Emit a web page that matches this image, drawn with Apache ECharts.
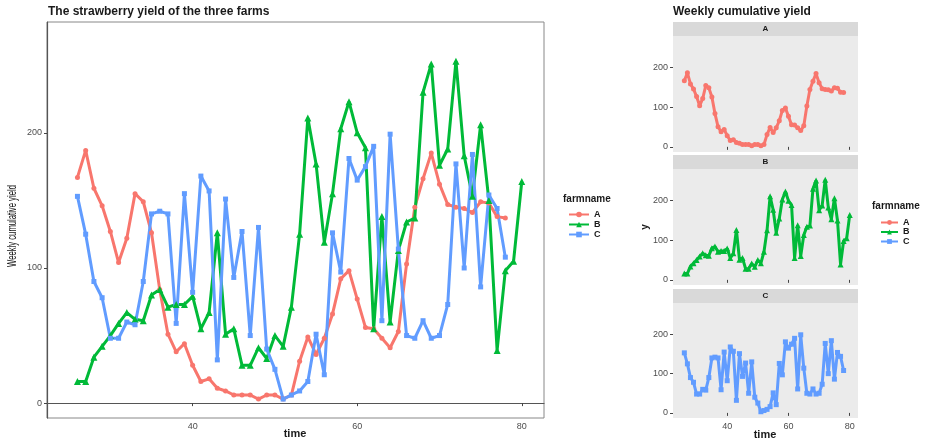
<!DOCTYPE html>
<html>
<head>
<meta charset="utf-8">
<script src="https://cdn.jsdelivr.net/npm/echarts@6/dist/echarts.min.js"></script>
<style>
  html, body { margin: 0; padding: 0; background: #fff; }
  #chart { width: 933px; height: 442px; }
</style>
</head>
<body>
<div id="chart"></div>
<script>
// Weekly time index for each farm
const timeAC = [26,27,28,29,30,31,32,33,34,35,36,37,38,39,40,41,42,43,44,45,46,47,48,49,50,51,52,53,54,55,56,57,58,59,60,61,62,63,64,65,66,67,68,69,70,71,72,73,74,75,76,77,78];
const timeB = [26,27,28,29,30,31,32,33,34,35,36,37,38,39,40,41,42,43,44,45,46,47,48,49,50,51,52,53,54,55,56,57,58,59,60,61,62,63,64,65,66,67,68,69,70,71,72,73,74,75,76,77,78,79,80];

// Weekly cumulative yield per farm
const yieldA = [167,187,159,146,127,104,122,155,149,126, 84,51,38,44,28,16,18,11,9,6, 6,6,3,6,6,3,6,31,49,36, 48,66,92,98,77,56,55,48,41,53, 103,145,166,185,162,147,145,144,141,149, 148,138,137];
const yieldB = [16,16,34,42,50,59,67,62,61,80, 84,71,73,73,79,55,67,126,51,55, 28,28,41,33,50,42,71,125,211,177, 119,155,203,223,200,189,55,138,60,113, 134,137,230,251,176,188,253,183,153,206, 150,39,98,105,164];
const yieldC = [153,125,90,78,48,48,60,58,90,140, 142,140,59,155,82,168,157,32,151,93, 127,50,130,40,25,3,6,9,16,51, 21,126,97,181,165,175,190,61,199,114, 50,48,61,48,50,73,177,100,184,86, 154,144,108];

const farms = ['A', 'B', 'C'];
const xTicks = [40, 60, 80];
const yTicks = [0, 100, 200];

const colors = { A: '#F8766D', B: '#00BA38', C: '#619CFF' };
const shapes = { A: 'circle', B: 'triangle', C: 'rect' };
const seriesData = {
  A: timeAC.map((t, i) => [t, yieldA[i]]),
  B: timeB.map((t, i) => [t, yieldB[i]]),
  C: timeAC.map((t, i) => [t, yieldC[i]])
};

const FONT = 'Liberation Sans, Arial, sans-serif';
const chart = echarts.init(document.getElementById('chart'));

function xAxisFor(gridIndex, showLabels) {
  return {
    type: 'value', gridIndex, min: 22.3, max: 82.7,
    axisLine: { show: gridIndex === 0, lineStyle: { color: '#555', width: 1.2 } },
    axisTick: { show: true, length: 3, customValues: xTicks, lineStyle: { color: '#444' } },
    axisLabel: { show: showLabels, customValues: xTicks, color: '#4D4D4D', fontSize: 9, margin: 4, fontFamily: FONT },
    splitLine: { show: false }
  };
}
function yAxisFor(gridIndex, min, max) {
  return {
    type: 'value', gridIndex, min, max,
    axisLine: { show: gridIndex === 0, lineStyle: { color: '#555', width: 1.2 } },
    axisTick: { show: true, length: 3, customValues: yTicks, lineStyle: { color: '#444' } },
    axisLabel: { customValues: yTicks, color: '#4D4D4D', fontSize: 9, margin: 5, fontFamily: FONT },
    splitLine: { show: false }
  };
}

const grids = [
  { left: 47, top: 22, width: 497, height: 396, show: true, borderColor: '#888', borderWidth: 1, backgroundColor: '#fff' },
  { left: 673, top: 36, width: 185, height: 116, show: true, borderWidth: 0, backgroundColor: '#EBEBEB' },
  { left: 673, top: 169, width: 185, height: 116, show: true, borderWidth: 0, backgroundColor: '#EBEBEB' },
  { left: 673, top: 303, width: 185, height: 115, show: true, borderWidth: 0, backgroundColor: '#EBEBEB' }
];

const series = [];
farms.forEach((f) => {
  series.push({
    name: f, type: 'line', xAxisIndex: 0, yAxisIndex: 0,
    data: seriesData[f], symbol: shapes[f], symbolSize: f === 'B' ? 7 : 5,
    showSymbol: true, color: colors[f],
    lineStyle: { width: 3, color: colors[f] },
    itemStyle: { color: colors[f] }, z: 3
  });
});
farms.forEach((f, i) => {
  series.push({
    name: f, type: 'line', xAxisIndex: i + 1, yAxisIndex: i + 1,
    data: seriesData[f], symbol: shapes[f], symbolSize: f === 'B' ? 6 : 5,
    showSymbol: true, color: colors[f],
    lineStyle: { width: 3, color: colors[f] },
    itemStyle: { color: colors[f] }
  });
});

function strip(top, label) {
  return [
    { type: 'rect', shape: { x: 673, y: top, width: 185, height: 14 }, style: { fill: '#D9D9D9' }, silent: true },
    { type: 'text', x: 765.5, y: top + 7, style: { text: label, fill: '#1A1A1A', font: 'bold 8px ' + FONT, textAlign: 'center', textVerticalAlign: 'middle' }, silent: true }
  ];
}

const option = {
  animation: false,
  backgroundColor: '#fff',
  grid: grids,
  xAxis: [xAxisFor(0, true), xAxisFor(1, false), xAxisFor(2, false), xAxisFor(3, true)],
  yAxis: [yAxisFor(0, -11, 282), yAxisFor(1, -13, 280), yAxisFor(2, -13, 280), yAxisFor(3, -13, 280)],
  legend: [
    {
      data: farms, orient: 'vertical', left: 563, top: 205, itemWidth: 20, itemHeight: 7, itemGap: 1,
      textStyle: { fontSize: 9, fontWeight: 'bold', color: '#1A1A1A', fontFamily: FONT }, selectedMode: false
    },
    {
      data: farms, orient: 'vertical', left: 875, top: 213, itemWidth: 17, itemHeight: 6, itemGap: 0.5,
      textStyle: { fontSize: 9, fontWeight: 'bold', color: '#1A1A1A', fontFamily: FONT }, selectedMode: false
    }
  ],
  graphic: [
    { type: 'text', x: 48, y: 12, style: { text: 'The strawberry yield of the three farms', fill: '#1A1A1A', font: 'bold 12px ' + FONT, textVerticalAlign: 'middle' } },
    { type: 'text', x: 673, y: 12, style: { text: 'Weekly cumulative yield', fill: '#1A1A1A', font: 'bold 12px ' + FONT, textVerticalAlign: 'middle' } },
    { type: 'text', x: 12.5, y: 226, rotation: Math.PI / 2, scaleX: 0.64, style: { text: 'Weekly cumulative yield', fill: '#111', font: '12px ' + FONT, textAlign: 'center', textVerticalAlign: 'middle' } },
    { type: 'text', x: 295, y: 434, style: { text: 'time', fill: '#1A1A1A', font: 'bold 11px ' + FONT, textAlign: 'center', textVerticalAlign: 'middle' } },
    { type: 'text', x: 765, y: 435, style: { text: 'time', fill: '#1A1A1A', font: 'bold 11px ' + FONT, textAlign: 'center', textVerticalAlign: 'middle' } },
    { type: 'text', x: 645, y: 227, rotation: Math.PI / 2, style: { text: 'y', fill: '#1A1A1A', font: 'bold 10px ' + FONT, textAlign: 'center', textVerticalAlign: 'middle' } },
    { type: 'text', x: 563, y: 199, style: { text: 'farmname', fill: '#1A1A1A', font: 'bold 10px ' + FONT, textVerticalAlign: 'middle' } },
    { type: 'text', x: 872, y: 206, style: { text: 'farmname', fill: '#1A1A1A', font: 'bold 10px ' + FONT, textVerticalAlign: 'middle' } },
    ...strip(22, 'A'),
    ...strip(155, 'B'),
    ...strip(289, 'C')
  ],
  series
};

chart.setOption(option);
</script>
</body>
</html>
